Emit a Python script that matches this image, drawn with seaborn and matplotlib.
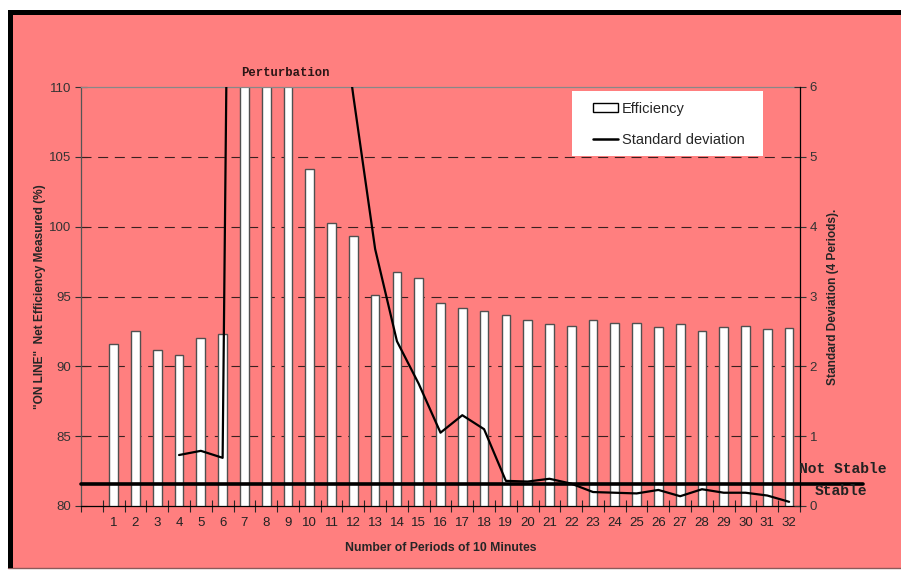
import numpy as np
import pandas as pd
import matplotlib
matplotlib.use("Agg")
import matplotlib.pyplot as plt
import seaborn as sns
from matplotlib.patches import Rectangle, Patch
from matplotlib.lines import Line2D
import matplotlib.transforms as mtransforms

# ---------------------------
# Data
# ---------------------------
periods = list(range(1, 33))
efficiency = [91.6, 92.5, 91.2, 90.8, 92.05, 92.3, 112.0, 112.0, 112.0, 104.1,
              100.25, 99.35, 95.1, 96.75, 96.3, 94.5, 94.15, 93.95, 93.65, 93.3,
              93.0, 92.9, 93.35, 93.1, 93.1, 92.8, 93.0, 92.5, 92.85, 92.9,
              92.7, 92.75]

std_periods = list(range(4, 33))
std_dev = [0.73, 0.79, 0.69, 32.0, 30.0, 25.0, 15.0, 8.2, 5.87, 3.68,
           2.36, 1.75, 1.05, 1.3, 1.1, 0.36, 0.35, 0.39, 0.32, 0.20,
           0.19, 0.18, 0.23, 0.14, 0.24, 0.19, 0.19, 0.15, 0.06]

stable_limit = 0.31

left_ticks = [80, 85, 90, 95, 100, 105, 110]
right_ticks = [0, 1, 2, 3, 4, 5, 6]

df_eff = pd.DataFrame({"period": periods, "efficiency": efficiency})
df_std = pd.DataFrame({"period": std_periods, "std": std_dev})

# ---------------------------
# Style
# ---------------------------
sns.set_theme(style="ticks")
plt.rcParams["font.family"] = ["Liberation Sans", "DejaVu Sans"]

salmon = "#FF7F7F"
W, H = 901, 570
fig = plt.figure(figsize=(W / 100, H / 100), dpi=100, facecolor="white")

# salmon background with black top/left border (drawn behind the axes)
fig.patches.append(Rectangle((8 / W, 2 / H), 1 - 8 / W, 556 / H,
                             transform=fig.transFigure, facecolor=salmon,
                             edgecolor="none", zorder=-10))
fig.patches.append(Rectangle((8 / W, 2 / H), 5 / W, 556 / H,
                             transform=fig.transFigure, facecolor="black",
                             edgecolor="none", zorder=-9))
fig.patches.append(Rectangle((8 / W, (H - 15) / H), 1 - 8 / W, 5 / H,
                             transform=fig.transFigure, facecolor="black",
                             edgecolor="none", zorder=-9))
fig.lines.append(Line2D([8 / W, 1], [2 / H, 2 / H], transform=fig.transFigure,
                        color="#8a5a5a", lw=1, zorder=-9))

ax = fig.add_axes([81 / W, (H - 506) / H, (800 - 81) / W, (506 - 87) / H])
ax.set_facecolor("none")

# bars
sns.barplot(data=df_eff, x="period", y="efficiency", native_scale=True,
            width=0.4, color="white", edgecolor="#505050", linewidth=1,
            saturation=1, ax=ax, zorder=2)

ax.set_xlim(-0.5, 32.5)
ax.set_ylim(80, 110)
ax.set_yticks(left_ticks)
ax.set_xticks(periods)
ax.set_xticklabels([str(p) for p in periods])
ax.set_xticks(np.arange(-0.5, 33, 1), minor=True)
ax.tick_params(axis="x", which="major", length=0, labelsize=9.5, pad=8,
               colors="#222222")
ax.tick_params(axis="x", which="minor", length=8, direction="inout", width=0.8)
ax.tick_params(axis="y", length=8, direction="inout", width=0.8, labelsize=9.5,
               colors="#333333", pad=3)
for y in left_ticks[1:-1]:
    ax.axhline(y, color="#3a2020", lw=0.8, ls=(0, (9, 6)), zorder=1)

ax.spines["left"].set_color("#555555")
ax.spines["bottom"].set_color("black")
ax.spines["top"].set_color("#888888")
ax.spines["right"].set_visible(False)
for s in ax.spines.values():
    s.set_linewidth(0.9)

ax.set_xlabel("Number of Periods of 10 Minutes", fontsize=8.8, fontweight="bold",
              labelpad=9)
ax.set_ylabel('"ON LINE"  Net Efficiency Measured (%)', fontsize=8.6,
              fontweight="bold", labelpad=2)

# standard deviation on right axis
ax2 = ax.twinx()
ax2.set_facecolor("none")
sns.lineplot(data=df_std, x="period", y="std", color="black", lw=1.6, ax=ax2)
ax2.set_ylim(0, 6)
ax2.set_yticks(right_ticks)
ax2.tick_params(axis="y", length=8, direction="inout", width=0.8, labelsize=9.5,
                colors="#333333", pad=3)
ax2.spines["right"].set_color("black")
ax2.spines["right"].set_linewidth(0.9)
for s in ["left", "top", "bottom"]:
    ax2.spines[s].set_visible(False)
ax2.set_ylabel("Standard Deviation (4 Periods).", fontsize=8.6, fontweight="bold",
               labelpad=7)

# stable / not stable limit
trans = mtransforms.blended_transform_factory(ax2.transAxes, ax2.transData)
ax2.plot([0, 1.088], [stable_limit, stable_limit], transform=trans,
         color="black", lw=2.6, clip_on=False, zorder=5)

mono = ["Liberation Mono", "DejaVu Sans Mono"]
fig.text(799 / W, (H - 469) / H, "Not Stable", family=mono, fontweight="bold",
         fontsize=10.5, va="center", ha="left", color="#222222")
fig.text(815 / W, (H - 491) / H, "Stable", family=mono, fontweight="bold",
         fontsize=10.5, va="center", ha="left", color="#222222")
fig.text(285 / W, (H - 73) / H, "Perturbation", family=mono, fontweight="bold",
         fontsize=8.8, va="center", ha="center", color="#2a1515")

# legend in a white box
ax2.add_patch(Rectangle(((572 - 81) / 719, (506 - 156) / 419), 191 / 719, 65 / 419,
                        transform=ax2.transAxes, facecolor="white",
                        edgecolor="none", zorder=6, clip_on=False))
handles = [Patch(facecolor="white", edgecolor="black", lw=1),
           Line2D([], [], color="black", lw=1.8)]
leg = ax2.legend(handles, ["Efficiency", "Standard deviation"],
                 loc="upper left",
                 bbox_to_anchor=((587 - 81) / 719, (506 - 96) / 419),
                 frameon=False, fontsize=10.5, handlelength=1.7,
                 handleheight=0.55, handletextpad=0.3, labelspacing=1.15,
                 borderaxespad=0, borderpad=0.4)
leg.set_zorder(7)

fig.savefig("out.png", dpi=100, facecolor=fig.get_facecolor())
